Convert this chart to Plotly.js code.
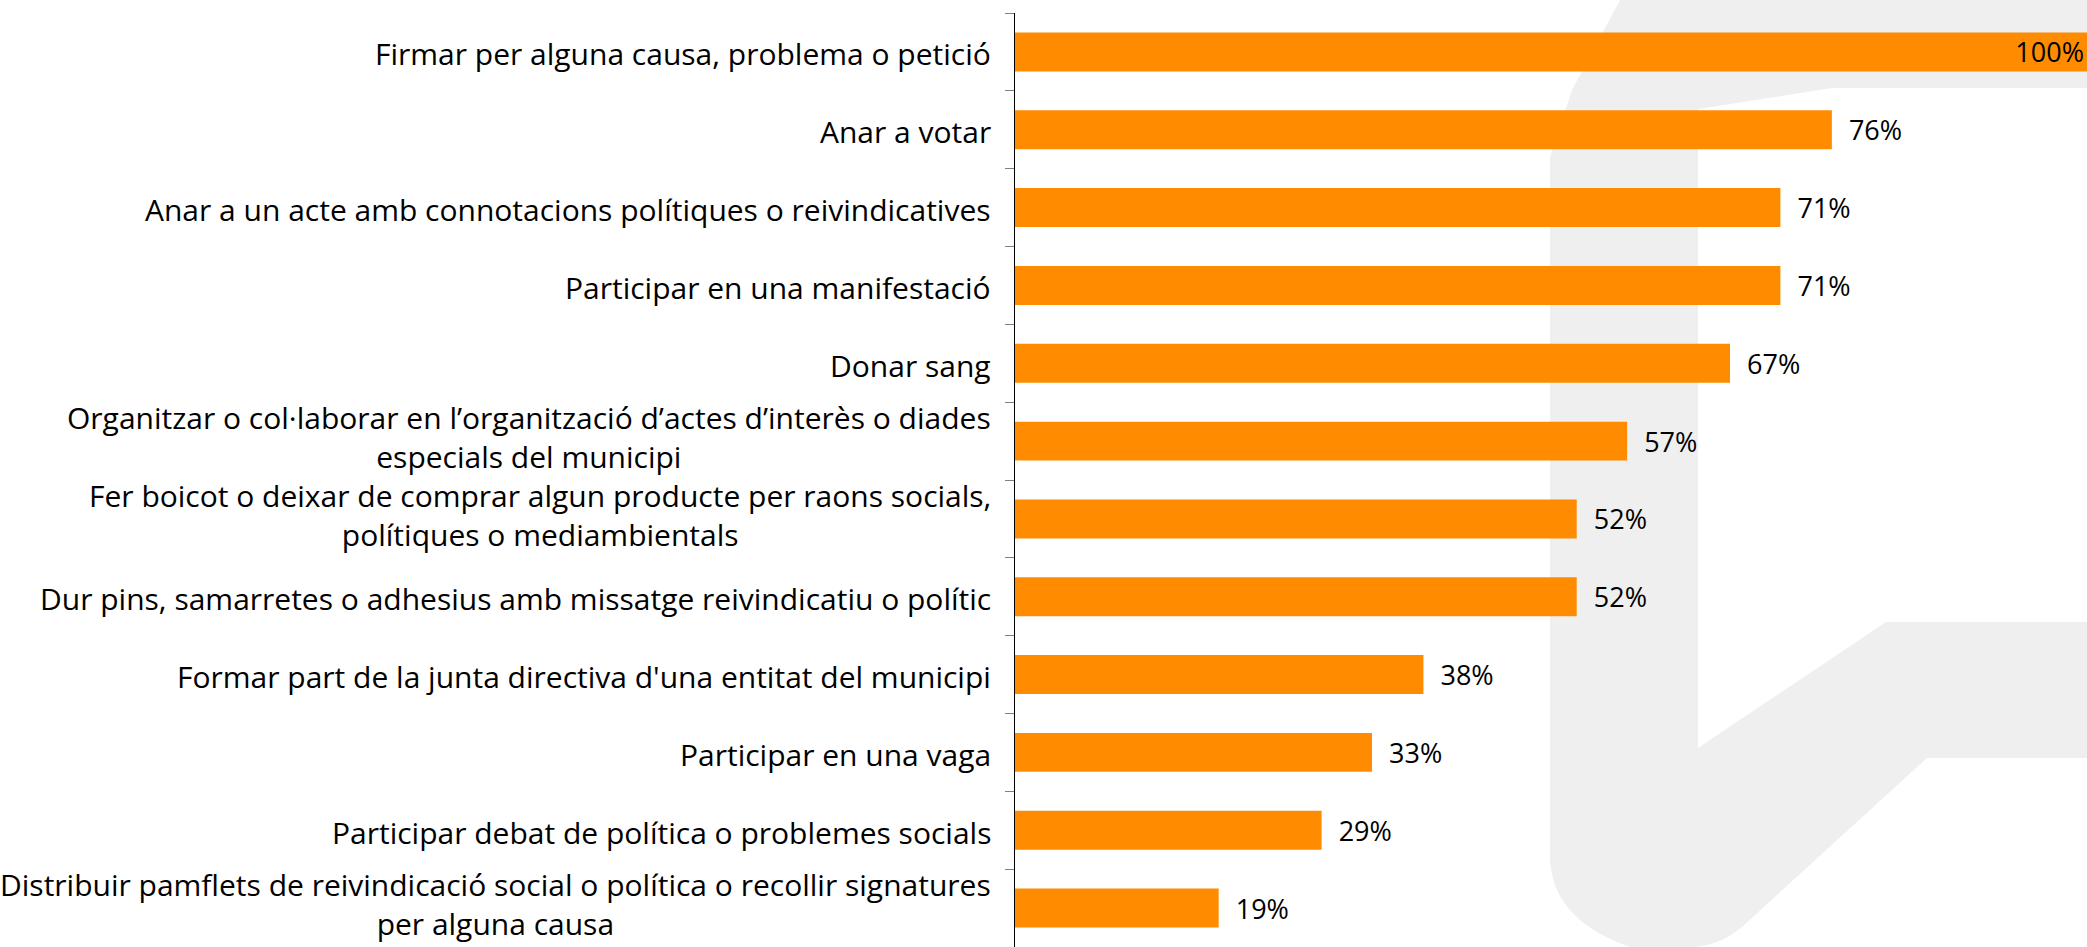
<!DOCTYPE html>
<html>
<head>
<meta charset="utf-8">
<script src="https://cdn.plot.ly/plotly-3.0.1.min.js"></script>
<style>html,body{margin:0;padding:0;background:#fff;}#chart{width:2087px;height:947px;}</style>
</head>
<body>
<div id="chart"></div>
<script>
// Data
const categories = [
  "Firmar per alguna causa, problema o petició",
  "Anar a votar",
  "Anar a un acte amb connotacions polítiques o reivindicatives",
  "Participar en una manifestació",
  "Donar sang",
  "Organitzar o col·laborar en l’organització d’actes d’interès o diades<br>especials del municipi",
  "Fer boicot o deixar de comprar algun producte per raons socials,<br>polítiques o mediambientals",
  "Dur pins, samarretes o adhesius amb missatge reivindicatiu o polític",
  "Formar part de la junta directiva d'una entitat del municipi",
  "Participar en una vaga",
  "Participar debat de política o problemes socials",
  "Distribuir pamflets de reivindicació social o política o recollir signatures<br>per alguna causa"
];
const values = [100, 76.2, 71.4, 71.4, 66.7, 57.1, 52.4, 52.4, 38.1, 33.3, 28.6, 19.0];
const valueLabels = ["100%", "76%", "71%", "71%", "67%", "57%", "52%", "52%", "38%", "33%", "29%", "19%"];

// Layout constants
const W = 2087, H = 947, L = 1015, R = 0, T = 13, B = 0;
const FONT = "Open Sans";
const px = x => (x - L) / (W - L - R);
const py = y => 1 - (y - T) / (H - T - B);
const P = (x, y) => px(x).toFixed(5) + "," + py(y).toFixed(5);

// Light watermark in the background (decoration)
const wmPath =
  "M" + P(1620, 0) + " L" + P(2087, 0) + " L" + P(2087, 88) + " L" + P(1832, 88) +
  " L" + P(1698, 109) + " L" + P(1698, 748) + " L" + P(1886, 622) + " L" + P(2087, 622) +
  " L" + P(2087, 758) + " L" + P(1927, 758) + " L" + P(1742, 927) +
  " Q" + P(1718, 947) + " " + P(1690, 947) + " L" + P(1630, 947) +
  " Q" + P(1553, 920) + " " + P(1550, 860) + " L" + P(1550, 157) + " L" + P(1572, 90) + " Z";

const trace = {
  type: "bar",
  orientation: "h",
  y: categories,
  x: values,
  text: valueLabels.map((t, i) => values[i] >= 100 ? t : "\u00a0\u00a0" + t),
  textposition: values.map(v => v >= 100 ? "inside" : "outside"),
  insidetextanchor: "end",
  textfont: {family: FONT, size: 27, color: "#000"},
  insidetextfont: {family: FONT, size: 27, color: "#000"},
  outsidetextfont: {family: FONT, size: 27, color: "#000"},
  constraintext: "none",
  textangle: 0,
  cliponaxis: false,
  marker: {color: "#FF8C00", line: {width: 0}},
  hoverinfo: "none"
};

const annotations = categories.map(c => ({
  xref: "paper", yref: "y", x: 0, y: c,
  xanchor: "right", yanchor: "middle", xshift: -22, yshift: c.indexOf("<br>") >= 0 ? 4 : -2,
  text: c, align: "center", showarrow: false,
  font: {family: FONT, size: 30, color: "#000"}
}));

const layout = {
  width: W, height: H,
  margin: {l: L, r: R, t: T, b: B, pad: 0},
  paper_bgcolor: "#fff",
  plot_bgcolor: "rgba(0,0,0,0)",
  showlegend: false,
  bargap: 0.5,
  xaxis: {range: [0, 100], visible: false, fixedrange: true},
  yaxis: {
    type: "category", autorange: false, range: [categories.length - 0.5, -0.5],
    showticklabels: false, ticks: "outside", tickson: "boundaries",
    ticklen: 9, tickwidth: 1, tickcolor: "#808080",
    showline: true, linecolor: "#000", linewidth: 1.3,
    showgrid: false, zeroline: false, fixedrange: true
  },
  shapes: [{
    type: "path", xref: "paper", yref: "paper", path: wmPath,
    fillcolor: "#EFEFEF", line: {width: 0}, layer: "below"
  }],
  annotations: annotations
};

Plotly.newPlot("chart", [trace], layout, {displayModeBar: false, staticPlot: true});
</script>
</body>
</html>
